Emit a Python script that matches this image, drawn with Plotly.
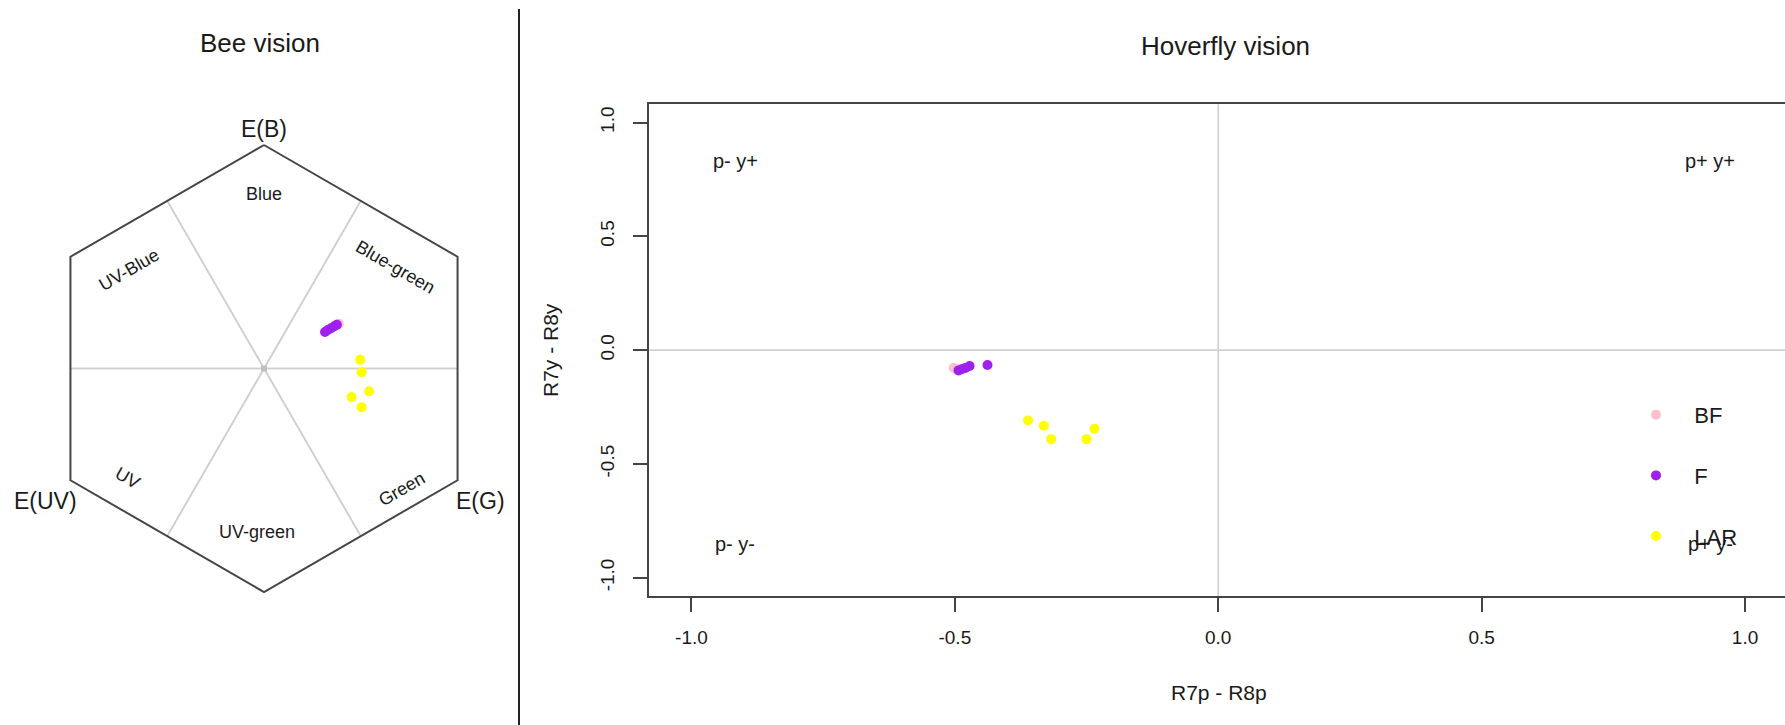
import math
import plotly.graph_objects as go

W, H = 1785, 725

# ---- data -------------------------------------------------------------
groups = ["BF", "F", "LAR"]
group_colors = ["pink", "#A020F0", "#FFFF00"]

# Bee colour hexagon (hexagon units)
bee_bf_x = [0.330, 0.335]
bee_bf_y = [0.198, 0.200]
bee_f_x = [0.273, 0.285, 0.300, 0.315, 0.326]
bee_f_y = [0.163, 0.172, 0.180, 0.189, 0.196]
bee_lar_x = [0.430, 0.437, 0.470, 0.392, 0.437]
bee_lar_y = [0.039, -0.017, -0.102, -0.128, -0.173]

# Hoverfly opponent space (R7p - R8p, R7y - R8y)
fly_bf_x = [-0.502, -0.497]
fly_bf_y = [-0.078, -0.082]
fly_f_x = [-0.493, -0.487, -0.480, -0.472, -0.438]
fly_f_y = [-0.089, -0.084, -0.078, -0.070, -0.065]
fly_lar_x = [-0.361, -0.331, -0.317, -0.250, -0.235]
fly_lar_y = [-0.309, -0.332, -0.391, -0.391, -0.345]

hex_vertex_labels = ["E(B)", "E(UV)", "E(G)"]
sector_labels = ["Blue", "UV-Blue", "Blue-green", "UV", "UV-green", "Green"]
quadrant_labels = ["p- y+", "p+ y+", "p- y-", "p+ y-"]
axis_ticks = [-1.0, -0.5, 0.0, 0.5, 1.0]
axis_tick_text = ["-1.0", "-0.5", "0.0", "0.5", "1.0"]

FONT = "Liberation Sans, Arial, sans-serif"
INK = "#1a1a1a"


def px_x(p):
    return p / W


def px_y(p):
    return 1 - p / H


def label(text, x, y, size, xref="paper", yref="paper", angle=0):
    return dict(x=x, y=y, xref=xref, yref=yref, text=text, textangle=angle,
                xanchor="center", yanchor="middle", showarrow=False,
                font=dict(size=size, color=INK, family=FONT))


fig = go.Figure()

# ---- bee hexagon panel --------------------------------------------------
HEX_CX, HEX_CY, HEX_R = 264.0, 368.5, 223.5   # pixel centre and radius
PANEL_W = 519.0

angles = [90, 150, 210, 270, 330, 30, 90]
hx = [math.cos(math.radians(a)) for a in angles]
hy = [math.sin(math.radians(a)) for a in angles]

# sector dividers: centre to the middle of each edge
sx, sy = [], []
for k in range(6):
    mx = (hx[k] + hx[k + 1]) / 2
    my = (hy[k] + hy[k + 1]) / 2
    sx += [-mx, mx, None]
    sy += [-my, my, None]
fig.add_trace(go.Scatter(x=sx, y=sy, mode="lines", xaxis="x", yaxis="y",
                         line=dict(color="#d0d0d0", width=1.6),
                         showlegend=False, hoverinfo="skip"))
fig.add_trace(go.Scatter(x=hx, y=hy, mode="lines", xaxis="x", yaxis="y",
                         line=dict(color="#454545", width=2),
                         showlegend=False, hoverinfo="skip"))
fig.add_trace(go.Scatter(x=[0], y=[0], mode="markers", xaxis="x", yaxis="y",
                         marker=dict(symbol="square", size=6, color="#c0c0c0"),
                         showlegend=False, hoverinfo="skip"))

bee_sets = [(bee_bf_x, bee_bf_y), (bee_f_x, bee_f_y), (bee_lar_x, bee_lar_y)]
for name, col, (xs, ys) in zip(groups, group_colors, bee_sets):
    fig.add_trace(go.Scatter(x=xs, y=ys, mode="markers", xaxis="x", yaxis="y",
                             name=name, marker=dict(size=10, color=col),
                             showlegend=False))

annotations = []
vertex_pos = [(0.0, 1.073), (-0.978, -0.593), (0.969, -0.593)]
for txt, (ax_, ay_) in zip(hex_vertex_labels, vertex_pos):
    annotations.append(label(txt, ax_, ay_, 23, "x", "y"))

sector_pos = [(0.0, 0.783, 0), (-0.606, 0.442, -30), (0.586, 0.452, 30),
              (-0.611, -0.49, 30), (-0.03, -0.73, 0), (0.617, -0.541, -30)]
for txt, (ax_, ay_, ang) in zip(sector_labels, sector_pos):
    annotations.append(label(txt, ax_, ay_, 18, "x", "y", ang))

annotations.append(label("Bee vision", px_x(260), px_y(43), 26))

# ---- hoverfly panel ------------------------------------------------------
X0_PX, X_SCALE = 1218.0, 527.0
fly_left_px = 649.3
fly_top_px, fly_bottom_px = 104.3, 596.0
x_right_val = (W - X0_PX) / X_SCALE

fly_sets = [(fly_bf_x, fly_bf_y), (fly_f_x, fly_f_y), (fly_lar_x, fly_lar_y)]
for name, col, (xs, ys) in zip(groups, group_colors, fly_sets):
    fig.add_trace(go.Scatter(x=xs, y=ys, mode="markers", xaxis="x2", yaxis="y2",
                             name="\u00a0\u00a0\u00a0" + name, legendgroup=name,
                             marker=dict(size=10, color=col)))

quad_pos = [(-0.917, 0.831), (0.934, 0.831), (-0.917, -0.852), (0.934, -0.852)]
for txt, (ax_, ay_) in zip(quadrant_labels, quad_pos):
    annotations.append(label(txt, ax_, ay_, 20, "x2", "y2"))

annotations.append(label("Hoverfly vision", px_x(1225), px_y(46), 26))
annotations.append(label("R7p - R8p", px_x(1219), px_y(692), 21))
annotations.append(label("R7y - R8y", px_x(550), px_y(350), 21, angle=-90))

shapes = [
    # zero reference lines
    dict(type="line", xref="x2", yref="y2 domain", x0=0, x1=0, y0=0, y1=1,
         line=dict(color="#d0d0d0", width=1.6), layer="below"),
    dict(type="line", xref="x2 domain", yref="y2", x0=0, x1=1, y0=0, y1=0,
         line=dict(color="#d0d0d0", width=1.6), layer="below"),
    # panel divider
    dict(type="line", xref="paper", yref="paper", x0=px_x(PANEL_W), x1=px_x(PANEL_W),
         y0=0, y1=px_y(9), line=dict(color="#222222", width=2)),
]

hidden = dict(visible=False, showgrid=False, zeroline=False)
fig.update_layout(
    width=W, height=H,
    margin=dict(l=0, r=0, t=0, b=0),
    paper_bgcolor="white", plot_bgcolor="white",
    font=dict(family=FONT, color=INK),
    xaxis=dict(domain=[0, PANEL_W / W],
               range=[-HEX_CX / HEX_R, (PANEL_W - HEX_CX) / HEX_R], **hidden),
    yaxis=dict(domain=[0, 1],
               range=[-(H - HEX_CY) / HEX_R, HEX_CY / HEX_R], **hidden),
    xaxis2=dict(domain=[px_x(fly_left_px), 1],
                range=[-1.08, x_right_val], anchor="y2",
                showgrid=False, zeroline=False,
                showline=True, mirror=True, linecolor="#444444", linewidth=2,
                ticks="outside", ticklen=14, tickwidth=1.5, tickcolor="#444444",
                tickvals=axis_ticks, ticktext=axis_tick_text,
                tickfont=dict(size=19, color=INK, family=FONT),
                ticklabelstandoff=9),
    yaxis2=dict(domain=[px_y(fly_bottom_px), px_y(fly_top_px)],
                range=[-1.08, 1.08], anchor="x2",
                showgrid=False, zeroline=False,
                showline=True, mirror=False, linecolor="#444444", linewidth=2,
                ticks="outside", ticklen=14, tickwidth=1.5, tickcolor="#444444",
                tickvals=axis_ticks, ticktext=axis_tick_text, tickangle=-90,
                tickfont=dict(size=19, color=INK, family=FONT),
                ticklabelstandoff=12),
    legend=dict(x=px_x(1636), y=px_y(394), xanchor="left", yanchor="top",
                bgcolor="rgba(0,0,0,0)", borderwidth=0,
                font=dict(size=22, color=INK, family=FONT),
                tracegroupgap=29, traceorder="grouped"),
    annotations=annotations,
    shapes=shapes,
)

fig.write_html("out.html")
